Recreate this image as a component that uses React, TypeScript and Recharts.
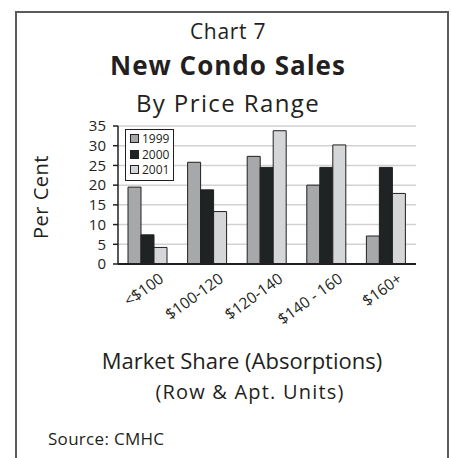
import React from 'react';
import { BarChart, Bar, XAxis, YAxis, CartesianGrid, Legend, Label } from 'recharts';

// Market share of new condo sales by price range, per cent
const RANGES = ['<$100', '$100-120', '$120-140', '$140 - 160', '$160+'];
const SHARE_1999 = [19.5, 25.8, 27.3, 20.0, 7.1];
const SHARE_2000 = [7.4, 18.8, 24.5, 24.5, 24.5];
const SHARE_2001 = [4.2, 13.3, 33.8, 30.2, 17.9];
const Y_TICKS = [0, 5, 10, 15, 20, 25, 30, 35];

const SERIES = [
  { key: 'y1999', name: '1999', color: '#a7a8aa' },
  { key: 'y2000', name: '2000', color: '#1f2324' },
  { key: 'y2001', name: '2001', color: '#d5d6d8' },
];

const FONT = '"Open Sans", Lato, sans-serif';
const INK = '#231f20';

const data = RANGES.map((range, i) => ({
  range,
  y1999: SHARE_1999[i],
  y2000: SHARE_2000[i],
  y2001: SHARE_2001[i],
}));

const RotatedTick = (props: any) => {
  const { x, y, payload } = props;
  return (
    <g transform={`translate(${x + 17},${y + 9})`}>
      <text
        textAnchor="end"
        transform="rotate(-36)"
        fill={INK}
        fontSize={15.5}
        fontFamily={FONT}
      >
        {payload.value}
      </text>
    </g>
  );
};

const LegendBox = () => (
  <div
    style={{
      border: `1.5px solid ${INK}`,
      background: '#fff',
      padding: '1px 4px 2px 4px',
      fontFamily: FONT,
      fontSize: 12,
      color: INK,
      lineHeight: '15.5px',
    }}
  >
    {SERIES.map((s) => (
      <div key={s.key} style={{ display: 'flex', alignItems: 'center' }}>
        <span
          style={{
            display: 'inline-block',
            width: 7,
            height: 7,
            background: s.color,
            border: `1px solid ${INK}`,
            marginRight: 3,
          }}
        />
        {s.name}
      </div>
    ))}
  </div>
);

const line = (top: number, size: number, extra: React.CSSProperties = {}): React.CSSProperties => ({
  position: 'absolute',
  left: 0,
  width: 456,
  top,
  textAlign: 'center',
  fontSize: size,
  lineHeight: `${size}px`,
  whiteSpace: 'nowrap',
  ...extra,
});

export default function App() {
  return (
    <div
      style={{
        position: 'absolute',
        left: 0,
        top: 0,
        width: 451,
        height: 458,
        overflow: 'hidden',
        background: '#fff',
        fontFamily: FONT,
        color: INK,
      }}
    >
      <div
        style={{
          position: 'absolute',
          left: 15,
          top: 11,
          width: 430,
          height: 470,
          border: '2px solid #5a5a5a',
        }}
      />
      <div style={line(21.3, 21, { letterSpacing: 0.7 })}>Chart 7</div>
      <div style={line(52.2, 26, { fontWeight: 700, letterSpacing: 1 })}>New Condo Sales</div>
      <div style={line(90.8, 24, { letterSpacing: 1.4 })}>By Price Range</div>

      <div style={{ position: 'absolute', left: 0, top: 0 }}>
        <BarChart
          width={451}
          height={340}
          data={data}
          margin={{ top: 126, right: 35, left: 0, bottom: 0 }}
          barCategoryGap={10}
          barGap={0}
        >
          <CartesianGrid vertical={false} stroke="#d2d2d2" strokeWidth={1.5} />
          <XAxis
            xAxisId="edges"
            type="number"
            domain={[0, 5]}
            ticks={[0, 1, 2, 3, 4, 5]}
            height={0}
            tick={false}
            axisLine={false}
            tickLine={{ stroke: INK, strokeWidth: 1.5 }}
            tickSize={5}
          />
          <XAxis
            dataKey="range"
            height={76}
            interval={0}
            tickLine={false}
            axisLine={{ stroke: INK, strokeWidth: 2 }}
            tick={<RotatedTick />}
          />
          <XAxis
            xAxisId="top"
            orientation="top"
            height={0}
            tick={false}
            tickLine={false}
            axisLine={{ stroke: '#444', strokeWidth: 1.5 }}
          />
          <YAxis
            width={118}
            domain={[0, 35]}
            ticks={Y_TICKS}
            interval={0}
            tickSize={5}
            tickMargin={7}
            axisLine={{ stroke: INK, strokeWidth: 1.5 }}
            tickLine={{ stroke: INK, strokeWidth: 1.5 }}
            tick={{ fill: INK, fontSize: 15, fontFamily: FONT }}
          >
            <Label
              content={(p: any) => {
                const vb = p.viewBox;
                const cy = vb.y + vb.height / 2;
                return (
                  <text
                    x={0}
                    y={0}
                    transform={`translate(48,${cy + 2}) rotate(-90)`}
                    textAnchor="middle"
                    fill={INK}
                    fontSize={20}
                    letterSpacing={0.5}
                    fontFamily={FONT}
                  >
                    Per Cent
                  </text>
                );
              }}
            />
          </YAxis>
          <YAxis
            yAxisId="right"
            orientation="right"
            width={0}
            tick={false}
            tickLine={false}
            axisLine={{ stroke: '#444', strokeWidth: 1.5 }}
          />
          <Legend
            layout="vertical"
            align="center"
            verticalAlign="middle"
            wrapperStyle={{ left: 125, top: 129, width: 'auto' }}
            content={() => <LegendBox />}
          />
          {SERIES.map((s) => (
            <Bar
              key={s.key}
              dataKey={s.key}
              name={s.name}
              fill={s.color}
              stroke={INK}
              strokeWidth={1}
              isAnimationActive={false}
            />
          ))}
        </BarChart>
      </div>

      <div style={line(349, 22, { left: 14, width: 456 })}>Market Share (Absorptions)</div>
      <div style={line(381.5, 20, { left: 22, width: 456, letterSpacing: 1.2 })}>(Row &amp; Apt. Units)</div>
      <div style={{ position: 'absolute', left: 48, top: 430, fontSize: 17, lineHeight: '17px', letterSpacing: 0.3 }}>
        Source: CMHC
      </div>
    </div>
  );
}
